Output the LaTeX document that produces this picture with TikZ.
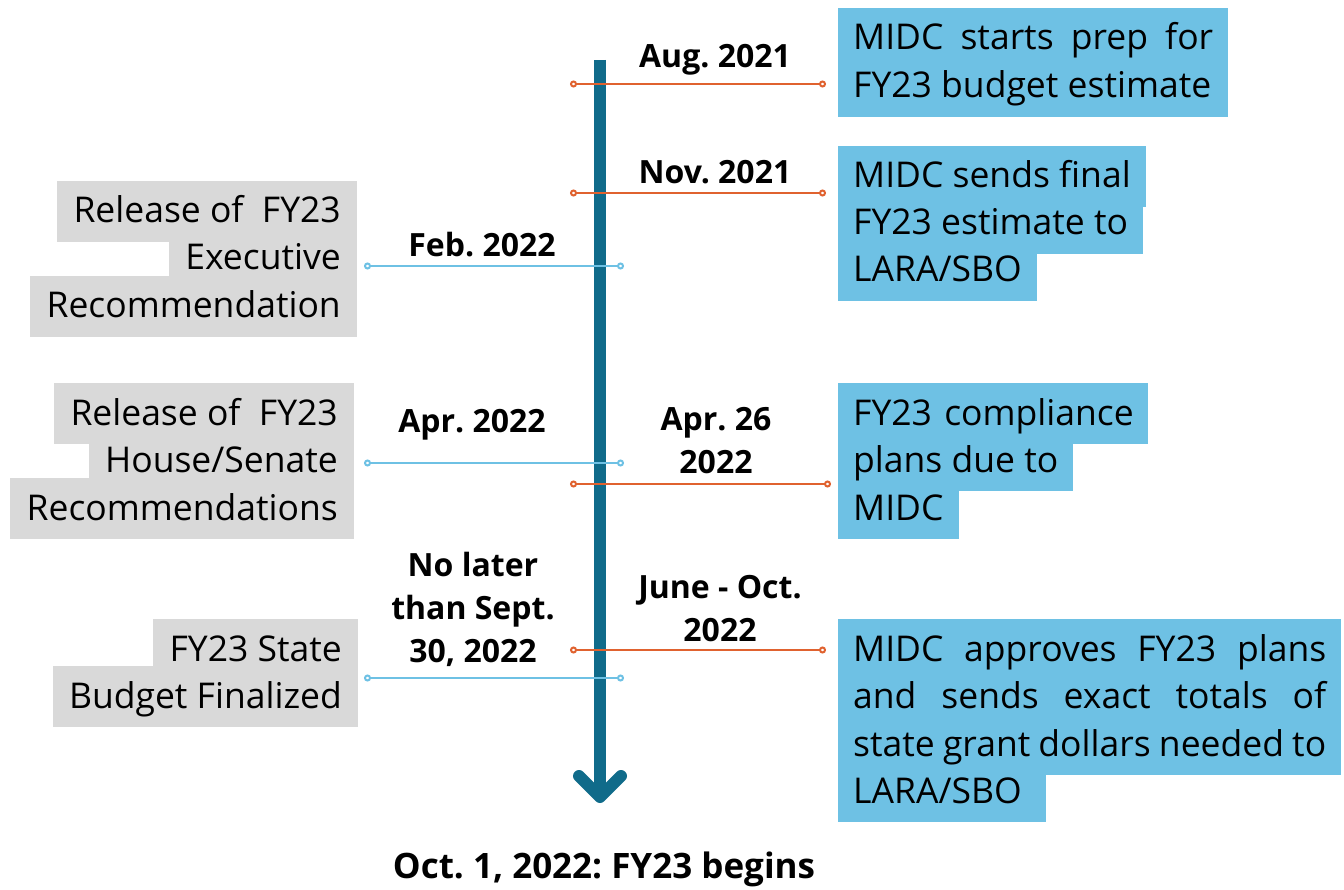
\documentclass[tikz,border=0pt]{standalone}
\usepackage{fontspec}
\setmainfont{Open Sans}
\usetikzlibrary{arrows.meta,backgrounds}
\frenchspacing

\definecolor{timeteal}{HTML}{106B8A}
\definecolor{boxblue}{HTML}{6EC1E4}
\definecolor{boxgray}{HTML}{D9D9D9}
\definecolor{tickorange}{HTML}{E0622F}

\begin{document}
\begin{tikzpicture}[x=1pt, y=-1pt,
   hlline/.style={inner xsep=15pt, inner ysep=0pt, text height=42pt, text depth=19pt,
                  font=\fontsize{35.5}{47}\selectfont},
   rightline/.style={hlline, anchor=base west},
   leftline/.style={hlline, inner xsep=16pt, anchor=base east},
   datelabel/.style={anchor=base, align=center, font=\fontsize{32}{43}\selectfont\bfseries},
   orangetick/.style={draw=tickorange, line width=2pt, {Circle[open,length=7pt]}-{Circle[open,length=7pt]}},
   bluetick/.style={draw=boxblue, line width=2pt, {Circle[open,length=7pt]}-{Circle[open,length=7pt]}}]
   \useasboundingbox (0,0) rectangle (1344,890);

   % time axis
   \coordinate (tltop) at (600,60);
   \coordinate (tlend) at (600,797);
   \draw[timeteal, line width=12pt] (tltop) -- (tlend);
   \draw[timeteal, line width=12pt, line cap=round, line join=round]
      ([shift={(-21,-21)}]tlend) -- (tlend) -- ([shift={(21,-21)}]tlend);

   % MIDC side
   \node[rightline] (aug1) at (838,50) {\makebox[360pt][s]{MIDC starts prep for}};
   \node[rightline] (aug2) at (838,98) {\makebox[360pt][l]{FY23 budget estimate}};
   \node[rightline] (nov1) at (838,188) {MIDC sends final};
   \node[rightline] (nov2) at (838,235) {FY23 estimate to};
   \node[rightline] (nov3) at (838,282) {LARA/SBO};
   \node[rightline] (due1) at (838,425) {\makebox[280pt][s]{FY23\ \ compliance}};
   \node[rightline] (due2) at (838,472) {plans due to};
   \node[rightline] (due3) at (838,520) {MIDC~};
   \node[rightline] (appr1) at (838,661) {\makebox[473pt][s]{MIDC approves FY23 plans}};
   \node[rightline] (appr2) at (838,708) {\makebox[473pt][s]{and sends exact totals of}};
   \node[rightline] (appr3) at (838,756) {\makebox[473pt][s]{state grant dollars needed to}};
   \node[rightline] (appr4) at (838,803) {LARA/SBO~~};

   % legislature side
   \node[leftline] (exec1) at (357,223) {Release of\ \ FY23~};
   \node[leftline] (exec2) at (357,270) {Executive~};
   \node[leftline] (exec3) at (357,318) {Recommendation~};
   \node[leftline] (house1) at (354,425) {Release of\ \ FY23~};
   \node[leftline] (house2) at (354,472) {House/Senate~};
   \node[leftline] (house3) at (354,520) {Recommendations~};
   \node[leftline] (final1) at (358,661) {FY23 State};
   \node[leftline] (final2) at (358,708) {Budget Finalized};

   \begin{scope}[on background layer]
      \foreach \n in {aug1,aug2,nov1,nov2,nov3,due1,due2,due3,appr1,appr2,appr3,appr4}
         \fill[boxblue] (\n.south west) rectangle (\n.north east);
      \foreach \n in {exec1,exec2,exec3,house1,house2,house3,final1,final2}
         \fill[boxgray] (\n.south west) rectangle (\n.north east);
   \end{scope}

   % dates (base = last line)
   \node[datelabel] (augdate) at (715,68) {Aug. 2021};
   \node[datelabel] (novdate) at (715,184) {Nov. 2021};
   \node[datelabel] (febdate) at (482,257) {Feb. 2022};
   \node[datelabel] (aprdate) at (472,432) {Apr. 2022};
   \node[datelabel] (duedate) at (716,473) {Apr. 26\\2022};
   \node[datelabel] (septdate) at (473,662) {No later\\than Sept.\\30, 2022};
   \node[datelabel] (junedate) at (720,641) {June - Oct.\\2022};
   \node[datelabel, font=\fontsize{35}{43}\selectfont\bfseries] (begins) at (604,878) {Oct. 1, 2022: FY23 begins};

   % ticks
   \coordinate (augl) at (570,84);    \coordinate (augr) at (826,84);
   \coordinate (novl) at (570,193);   \coordinate (novr) at (826,193);
   \coordinate (febl) at (364,266);   \coordinate (febr) at (624,266);
   \coordinate (aprl) at (364,463);   \coordinate (aprr) at (624,463);
   \coordinate (duel) at (570,484);   \coordinate (duer) at (831,484);
   \coordinate (junel) at (570,650);  \coordinate (juner) at (826,650);
   \coordinate (septl) at (364,678);  \coordinate (septr) at (624,678);
   \draw[orangetick] (augl) -- (augr);
   \draw[orangetick] (novl) -- (novr);
   \draw[bluetick] (febl) -- (febr);
   \draw[bluetick] (aprl) -- (aprr);
   \draw[orangetick] (duel) -- (duer);
   \draw[orangetick] (junel) -- (juner);
   \draw[bluetick] (septl) -- (septr);
\end{tikzpicture}
\end{document}
